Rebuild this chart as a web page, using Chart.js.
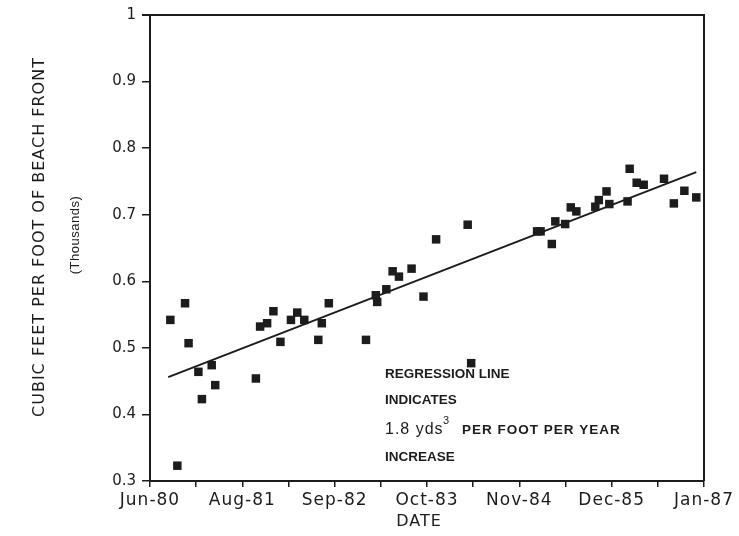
<!DOCTYPE html>
<html>
<head>
<meta charset="utf-8">
<script src="https://cdn.jsdelivr.net/npm/chart.js@4/dist/chart.umd.min.js"></script>
<style>
  html, body { margin: 0; padding: 0; background: #fff; }
  #wrap { width: 739px; height: 536px; }
</style>
</head>
<body>
<div id="wrap"><canvas id="c" width="739" height="536"></canvas></div>
<script>
// Survey dates as months since Jan 1980
const surveyMonths = [8.4, 9.4, 10.5, 11.0, 12.4, 12.9, 14.3, 14.8, 20.6, 21.2, 22.2, 23.1, 24.1, 25.6, 26.5, 27.5, 29.5, 30.0, 31.0,
  36.3, 37.7, 37.9, 39.2, 40.1, 41.0, 42.8, 44.5, 46.3, 50.8, 51.3,
  60.7, 61.2, 62.8, 63.3, 64.7, 65.5, 66.3, 69.0, 69.5, 70.6, 71.0, 73.6, 73.9, 74.9, 75.9, 78.8, 80.2, 81.7, 83.4];
// Cubic feet per foot of beach front (thousands)
const volumes = [0.542, 0.323, 0.567, 0.507, 0.464, 0.423, 0.474, 0.444, 0.454, 0.532, 0.537, 0.555, 0.509, 0.542, 0.553, 0.542, 0.512, 0.537, 0.567,
  0.512, 0.579, 0.569, 0.588, 0.615, 0.607, 0.619, 0.577, 0.663, 0.685, 0.477,
  0.675, 0.675, 0.656, 0.690, 0.686, 0.711, 0.705, 0.712, 0.722, 0.735, 0.716, 0.720, 0.769, 0.748, 0.745, 0.754, 0.717, 0.736, 0.726];
// Regression line end points
const regressionMonths = [8.1, 83.4];
const regressionValues = [0.456, 0.764];
// Axis labels
const xTickLabels = ['Jun-80', 'Aug-81', 'Sep-82', 'Oct-83', 'Nov-84', 'Dec-85', 'Jan-87'];
const yTickLabels = ['0.3', '0.4', '0.5', '0.6', '0.7', '0.8', '0.9', '1'];
const xRange = [5.5, 84.5];
const yRange = [0.3, 1.0];
const xTitle = 'DATE';
const yTitle = 'CUBIC FEET PER FOOT OF BEACH FRONT';
const yUnits = '(Thousands)';
const annotationLines = ['REGRESSION LINE', 'INDICATES', '1.8 yds|3|PER FOOT PER YEAR', 'INCREASE'];

const INK = '#1c1c1c';
const FONT = "'Liberation Sans', Arial, sans-serif";
const AXFONT = "'DejaVu Sans', sans-serif";

const scatterData = surveyMonths.map((m, i) => ({ x: m, y: volumes[i] }));
const lineData = regressionMonths.map((m, i) => ({ x: m, y: regressionValues[i] }));

const framePlugin = {
  id: 'frame',
  afterDatasetsDraw(chart) {
    const { ctx, chartArea: a } = chart;
    ctx.save();
    ctx.strokeStyle = INK;
    ctx.lineWidth = 2;
    ctx.beginPath();
    ctx.moveTo(a.left - 8, a.top);
    ctx.lineTo(a.right, a.top);
    ctx.lineTo(a.right, a.bottom);
    ctx.stroke();
    ctx.restore();
  }
};

const textPlugin = {
  id: 'texts',
  afterDraw(chart) {
    const { ctx } = chart;
    ctx.save();
    ctx.fillStyle = INK;
    ctx.textBaseline = 'middle';
    // y-axis titles
    ctx.save();
    ctx.translate(40, 237);
    ctx.rotate(-Math.PI / 2);
    ctx.textAlign = 'center';
    ctx.letterSpacing = '1px';
    ctx.font = "16px " + AXFONT;
    ctx.fillText(yTitle, 0, 0);
    ctx.restore();
    ctx.save();
    ctx.translate(75, 235);
    ctx.rotate(-Math.PI / 2);
    ctx.textAlign = 'center';
    ctx.letterSpacing = '0.5px';
    ctx.font = "13px " + FONT;
    ctx.fillText(yUnits, 0, 0);
    ctx.restore();
    // x-axis title
    ctx.save();
    ctx.textAlign = 'center';
    ctx.letterSpacing = '1px';
    ctx.font = "16px " + AXFONT;
    ctx.fillText(xTitle, 419, 522);
    ctx.restore();
    // annotation block
    const x0 = 385;
    const ys = [374, 400, 430, 457];
    ctx.textAlign = 'left';
    annotationLines.forEach((line, i) => {
      ctx.save();
      if (line.includes('|')) {
        const [a1, sup, rest] = line.split('|');
        ctx.letterSpacing = '1px';
        ctx.font = "16px " + FONT;
        ctx.fillText(a1, x0, ys[i]);
        ctx.font = "11px " + FONT;
        ctx.letterSpacing = '0px';
        ctx.fillText(sup, 443, ys[i] - 9);
        ctx.letterSpacing = '1px';
        ctx.font = "bold 13.5px " + FONT;
        ctx.fillText(rest, 462, ys[i]);
      } else {
        ctx.letterSpacing = '0px';
        ctx.font = "bold 13.5px " + FONT;
        ctx.fillText(line, x0, ys[i]);
      }
      ctx.restore();
    });
    ctx.restore();
  }
};

new Chart(document.getElementById('c'), {
  type: 'scatter',
  data: {
    datasets: [
      {
        label: 'Survey',
        data: scatterData,
        pointStyle: 'rect',
        pointRadius: 6,
        pointHoverRadius: 6,
        backgroundColor: INK,
        borderColor: INK,
        borderWidth: 0,
        order: 1
      },
      {
        type: 'line',
        label: 'Regression',
        data: lineData,
        showLine: true,
        borderColor: INK,
        borderWidth: 2,
        pointRadius: 0,
        fill: false,
        order: 2
      }
    ]
  },
  options: {
    responsive: false,
    animation: false,
    events: [],
    layout: { padding: { top: 15, right: 35, left: 0, bottom: 0 } },
    plugins: { legend: { display: false }, tooltip: { enabled: false } },
    scales: {
      x: {
        type: 'linear',
        min: xRange[0],
        max: xRange[1],
        afterBuildTicks(scale) {
          const n = (xTickLabels.length - 1) * 2;
          const t = [];
          for (let i = 0; i <= n; i++) t.push({ value: xRange[0] + i * (xRange[1] - xRange[0]) / n });
          scale.ticks = t;
        },
        afterFit(scale) {
          scale.height = 55;
          if (!scale._spaced) {
            const orig = scale.drawLabels.bind(scale);
            scale.drawLabels = function (area) {
              const c = scale.ctx;
              const prev = c.letterSpacing;
              c.letterSpacing = '1px';
              orig(area);
              c.letterSpacing = prev;
            };
            scale._spaced = true;
          }
        },
        ticks: {
          autoSkip: false,
          maxRotation: 0,
          padding: 3,
          color: INK,
          font: { family: AXFONT, size: 17 },
          callback(v, i) { return i % 2 === 0 ? xTickLabels[i / 2] : ''; }
        },
        grid: { display: true, drawOnChartArea: false, drawTicks: true, tickLength: 6, color: INK, lineWidth: 1.5 },
        border: { display: true, color: INK, width: 2 },
        title: { display: false }
      },
      y: {
        type: 'linear',
        min: yRange[0],
        max: yRange[1],
        afterFit(scale) { scale.width = 150; },
        ticks: {
          stepSize: 0.1,
          padding: 6,
          color: INK,
          font: { family: AXFONT, size: 15 },
          callback(v, i) { return yTickLabels[i]; }
        },
        grid: { display: true, drawOnChartArea: false, drawTicks: true, tickLength: 8, color: INK, lineWidth: 1.5 },
        border: { display: true, color: INK, width: 2 },
        title: { display: false }
      }
    }
  },
  plugins: [framePlugin, textPlugin]
});
</script>
</body>
</html>
